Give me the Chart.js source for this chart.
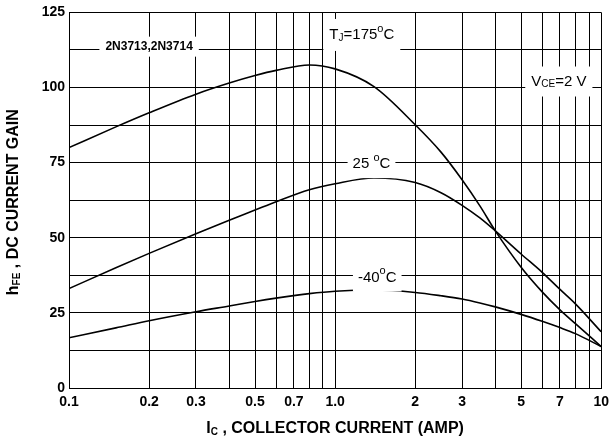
<!DOCTYPE html>
<html lang="en">
<head>
<meta charset="UTF-8">
<title>hFE vs IC</title>
<style>
  html, body { margin: 0; padding: 0; background: #fff; }
</style>
</head>
<body>
<canvas id="myChart" width="615" height="441"></canvas>
<script src="https://cdn.jsdelivr.net/npm/chart.js"></script>
<script>
// collector current (A) where the curves were read
const v_current = [0.1, 0.15, 0.2, 0.3, 0.4, 0.5, 0.6, 0.8, 1.0, 1.4, 2, 2.5, 3, 3.5, 4, 5, 6, 7, 8, 10];
// hFE readings for each junction temperature
const v_gain175 = [80, 86.9, 91.6, 97.8, 101.5, 104, 105.7, 107.5, 106.2, 100.3, 87.6, 78.5, 69.3, 60.6, 52.3, 40.2, 32, 26, 21.4, 13.8];
const v_gain25 = [33.1, 40, 44.8, 51.3, 55.8, 59.2, 62, 66, 68, 69.9, 68.4, 65, 60.8, 56.6, 52.3, 44.6, 38.5, 32.8, 28, 18.7];
const v_gainM40 = [16.7, 20, 22.4, 25.4, 27.3, 28.8, 29.9, 31.4, 32.2, 32.6, 31.8, 30.7, 29.6, 28.3, 27, 24.5, 22.2, 20.1, 18.1, 13.8];

// log grid and its labels
const v_xTicks = [0.1, 0.2, 0.3, 0.4, 0.5, 0.6, 0.7, 0.8, 0.9, 1, 2, 3, 4, 5, 6, 7, 8, 9, 10];
const v_xLabels = ["0.1", "0.2", "0.3", "", "0.5", "", "0.7", "", "", "1.0", "2", "3", "", "5", "", "7", "", "", "10"];
const v_yLabels = [0, 25, 50, 75, 100, 125];

// text inside the plot: [text, font size, raise, bold]
const v_notes = [
    { x: 0.2, y: 113.6, padX: 6, padY: 4, parts: [["2N3713,2N3714", 12, 0, true]] },
    { x: 1.26, y: 117.5, padX: 6, padY: 10, parts: [["T", 15, 0], ["J", 10, -3], ["=175", 15, 0], ["o", 11, 6], ["C", 15, 0]] },
    { x: 6.93, y: 102, padX: 6, padY: 9, parts: [["V", 15, 0], ["CE", 10, -3], ["=2 V", 15, 0]] },
    { x: 1.37, y: 74.5, padX: 5, padY: 8, parts: [["25 ", 15, 0], ["o", 11, 6], ["C", 15, 0]] },
    { x: 1.44, y: 36.8, padX: 5, padY: 8, parts: [["-40", 15, 0], ["o", 11, 6], ["C", 15, 0]] }
];

const v_family = '"Liberation Sans", Arial, sans-serif';

function f_font(size, bold) {
    return (bold ? "bold " : "") + size + "px " + v_family;
}

// draws a run of text pieces centred on (cx, cy)
function f_drawRich(ctx, parts, cx, cy, bold, padX, padY) {
    let total = 0;
    parts.forEach(p => {
        ctx.font = f_font(p[1], p[3] || bold);
        p.w = ctx.measureText(p[0]).width;
        total += p.w;
    });
    if (padX !== undefined) {
        ctx.fillStyle = "#fff";
        ctx.fillRect(cx - total / 2 - padX, cy - 6 - padY, total + 2 * padX, 12 + 2 * padY);
    }
    ctx.fillStyle = "#000";
    ctx.textBaseline = "middle";
    ctx.textAlign = "left";
    let x = cx - total / 2;
    parts.forEach(p => {
        ctx.font = f_font(p[1], p[3] || bold);
        ctx.fillText(p[0], x, cy - p[2]);
        x += p.w;
    });
}

const v_textPlugin = {
    id: "textPlugin",
    afterDatasetsDraw(chart) {
        const ctx = chart.ctx;
        const xs = chart.scales.x;
        const ys = chart.scales.y;
        ctx.save();
        v_notes.forEach(n => {
            f_drawRich(ctx, n.parts, xs.getPixelForValue(n.x), ys.getPixelForValue(n.y), false, n.padX, n.padY);
        });
        ctx.restore();
    },
    afterDraw(chart) {
        const ctx = chart.ctx;
        const area = chart.chartArea;
        ctx.save();
        f_drawRich(ctx, [["I", 16, 0], ["C", 10, -3], [" , COLLECTOR CURRENT (AMP)", 16, 0]],
            (area.left + area.right) / 2, 429, true);
        ctx.translate(14, (area.top + area.bottom) / 2 + 2);
        ctx.rotate(-Math.PI / 2);
        f_drawRich(ctx, [["h", 16, 0], ["FE", 10, -3], [" , DC CURRENT GAIN", 16, 0]], 0, 0, true);
        ctx.restore();
    }
};

function f_series(values) {
    return v_current.map((c, i) => ({ x: c, y: values[i] }));
}

function f_line(values) {
    return {
        data: f_series(values),
        borderColor: "#000",
        borderWidth: 1.6,
        pointRadius: 0,
        fill: false,
        cubicInterpolationMode: "monotone"
    };
}

const ctx = document.getElementById("myChart");

new Chart(ctx, {
    type: "line",
    data: {
        datasets: [f_line(v_gain175), f_line(v_gain25), f_line(v_gainM40)]
    },
    options: {
        responsive: false,
        animation: false,
        layout: { padding: { top: 10, right: 7, left: 0, bottom: 0 } },
        plugins: {
            legend: { display: false },
            tooltip: { enabled: false }
        },
        scales: {
            x: {
                type: "logarithmic",
                min: 0.1,
                max: 10,
                afterBuildTicks: s => { s.ticks = v_xTicks.map(v => ({ value: v })); },
                afterFit: s => { s.height = 53; },
                ticks: {
                    autoSkip: false,
                    maxRotation: 0,
                    padding: 6,
                    color: "#000",
                    font: { family: v_family, size: 14, weight: "bold" },
                    callback: (v, i) => v_xLabels[i]
                },
                grid: { color: "#000", lineWidth: 1, drawTicks: false },
                border: { color: "#000", width: 1 }
            },
            y: {
                min: 0,
                max: 125,
                afterFit: s => { s.width = 69; },
                ticks: {
                    stepSize: 12.5,
                    padding: 4,
                    color: "#000",
                    font: { family: v_family, size: 14, weight: "bold" },
                    callback: v => v_yLabels.includes(v) ? v : ""
                },
                grid: { color: "#000", lineWidth: 1, drawTicks: false },
                border: { color: "#000", width: 1 }
            }
        }
    },
    plugins: [v_textPlugin]
});
</script>
</body>
</html>
